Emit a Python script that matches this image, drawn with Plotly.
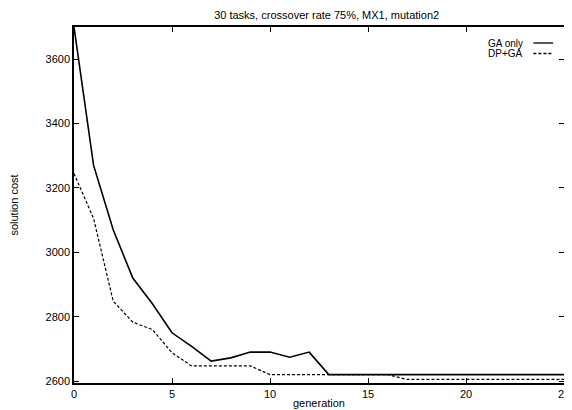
import plotly.graph_objects as go

generation = list(range(26))
ga_only = [3700, 3270, 3070, 2920, 2840, 2750, 2708, 2662, 2672, 2690, 2690, 2674, 2690,
           2620, 2620, 2620, 2620, 2620, 2620, 2620, 2620, 2620, 2620, 2620, 2620, 2620]
dp_ga = [3245, 3105, 2848, 2783, 2760, 2688, 2647, 2647, 2647, 2647, 2620, 2620, 2620,
         2620, 2620, 2620, 2620, 2605, 2605, 2605, 2605, 2605, 2605, 2605, 2605, 2605]
series_names = ["GA only", "DP+GA"]

fam = "Liberation Sans, Arial, sans-serif"

fig = go.Figure()
fig.add_trace(go.Scatter(x=generation, y=ga_only, mode="lines", name=series_names[0],
                         line=dict(color="black", width=1.6)))
fig.add_trace(go.Scatter(x=generation, y=dp_ga, mode="lines", name=series_names[1],
                         line=dict(color="black", width=1.2, dash="3px,2px")))

# gnuplot-like key: text right-aligned, line sample to its right
for i, (name, dash) in enumerate(zip(series_names, ["solid", "3px,2px"])):
    yy = 1 - (16 + i * 10.5) / 356
    fig.add_annotation(x=(531 - 74) / 496, y=yy, xref="paper", yref="paper", text=name,
                       showarrow=False, xanchor="right", yanchor="middle",
                       font=dict(size=10, color="black", family=fam))
    fig.add_shape(type="line", xref="paper", yref="paper",
                  x0=(539 - 74) / 496, x1=(559 - 74) / 496,
                  y0=yy, y1=yy, line=dict(color="black", width=1.3, dash=dash))

# page body has an 8px margin, so the figure is 8px smaller than the window
fig.update_layout(
    width=564, height=402,
    margin=dict(l=66, r=2, t=19, b=27),
    paper_bgcolor="white", plot_bgcolor="white",
    font=dict(family=fam, size=11, color="black"),
    showlegend=False,
    title=dict(text="30 tasks, crossover rate 75%, MX1, mutation2",
               x=0.565, xanchor="center", y=1 - 7 / 402, yanchor="middle",
               font=dict(size=11, color="black", family=fam)),
)
fig.update_xaxes(
    range=[0, 25], tickvals=[0, 5, 10, 15, 20, 25],
    showgrid=False, zeroline=False,
    showline=True, linecolor="black", linewidth=1.5, mirror="ticks",
    ticks="inside", ticklen=5, tickcolor="black", tickwidth=1.2,
    ticklabeloverflow="allow", ticklabelstandoff=0,
    tickfont=dict(size=11, color="black", family=fam),
    title=dict(text="generation", standoff=0,
               font=dict(size=11, color="black", family=fam)),
)
fig.update_yaxes(
    range=[2594, 3700], tickvals=[2600, 2800, 3000, 3200, 3400, 3600],
    showgrid=False, zeroline=False,
    showline=True, linecolor="black", linewidth=1.5, mirror="ticks",
    ticks="inside", ticklen=5, tickcolor="black", tickwidth=1.2,
    tickfont=dict(size=11, color="black", family=fam),
    title=dict(text="solution cost", standoff=26,
               font=dict(size=11, color="black", family=fam)),
)

fig.write_html("out.html")
